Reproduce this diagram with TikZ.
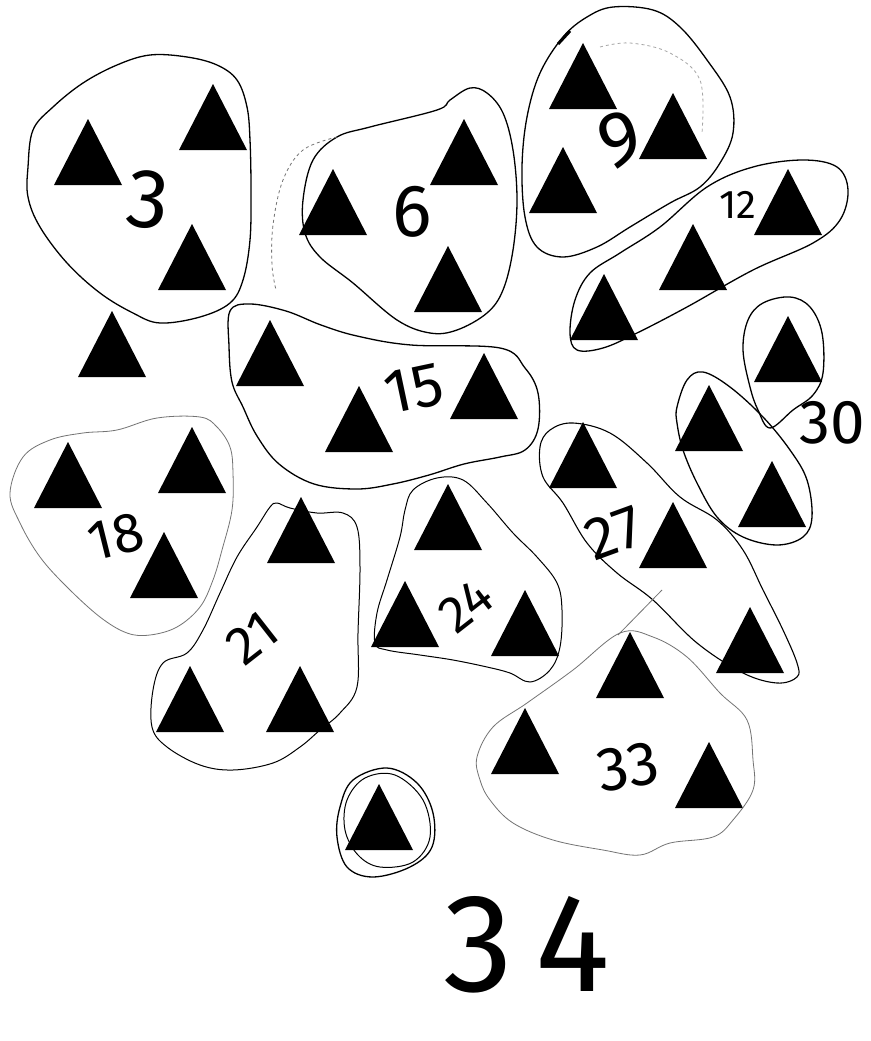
\documentclass[tikz,border=0pt]{standalone}
\usepackage{fontspec}
\IfFontExistsTF{FiraSans-Light.otf}{\newfontfamily\hand{FiraSans-Light.otf}}{\newfontfamily\hand{Fira Sans}}
\begin{document}
\begin{tikzpicture}[x=1pt,y=-1pt,
  loopline/.style={draw=black, line width=1.3pt, line join=round},
  faintline/.style={draw=black!55, line width=0.8pt, line join=round},
  lbl/.style={font={\hand\fontsize{#1}{#1}\selectfont}, inner sep=0pt, text=black},
  pics/tri/.style={code={\fill[black] (-34,0) -- (34,0) -- (0,-66) -- cycle;}}
]
\useasboundingbox[fill=white] (0,0) rectangle (870,1041);

% ---- triangles (base centre) ----
\foreach \x/\y in {88/185, 213/150, 192/290, 112/377,
  464/185, 333/235, 448/312,
  583/109, 673/159, 563/213,
  788/235, 693/290, 604/340,
  270/386, 359/452, 484/419,
  788/382, 709/451, 772/527,
  68/508, 192/493, 164/598,
  301/563, 190/732, 300/732,
  448/550, 405/647, 525/656,
  583/488, 673/568, 750/673,
  630/698, 525/774, 709/808,
  379/850}
  \pic at (\x,\y) {tri};

% ---- loops ----
% 3
\draw[loopline] plot[smooth cycle, tension=0.6] coordinates {(28,167) (33,130) (53,107) (83,83) (117,65) (150,55) (187,57) (217,65) (237,80) (247,107) (250,140) (251,190) (250,240) (243,280) (230,303) (200,317) (160,323) (133,313) (100,293) (67,263) (40,227) (28,197)};
% 6
\draw[loopline] plot[smooth cycle, tension=0.6] coordinates {(303,200) (313,160) (337,137) (370,127) (437,110) (450,100) (470,88) (487,93) (503,113) (513,150) (517,200) (513,250) (503,290) (487,313) (457,330) (430,333) (397,320) (353,283) (320,257) (305,233)};
\draw[faintline, dashed] plot[smooth, tension=0.6] coordinates {(337,137) (303,150) (283,180) (273,225) (272,265) (276,290)};
% 9
\draw[loopline] plot[smooth cycle, tension=0.6] coordinates {(563,37) (587,17) (613,7) (653,10) (680,27) (707,60) (730,97) (733,133) (720,163) (700,187) (670,203) (630,227) (597,247) (563,257) (537,247) (525,217) (522,167) (527,117) (540,73)};
\draw[line width=3pt] (558,44) -- (570,31);
\draw[faintline, dashed, draw=black!35] plot[smooth, tension=0.6] coordinates {(600,47) (630,43) (670,53) (700,80) (702,133)};
% 12
\draw[loopline] plot[smooth cycle, tension=0.6] coordinates {(570,333) (575,300) (590,273) (620,253) (660,227) (707,187) (753,167) (803,160) (837,167) (848,190) (840,220) (813,243) (753,270) (687,307) (637,333) (603,348) (577,350)};
% 15
\draw[loopline] plot[smooth cycle, tension=0.6] coordinates {(230,311) (250,304) (286,311) (321,325) (357,336) (411,345) (500,348) (525,368) (538,393) (538,429) (525,450) (500,457) (464,464) (429,475) (393,484) (357,489) (314,484) (279,464) (257,436) (243,407) (232,382) (229,346)};
% 30
\draw[loopline] plot[smooth cycle, tension=0.6] coordinates {(743,350) (748,320) (763,303) (790,297) (810,307) (822,333) (823,373) (813,395) (793,410) (770,428) (758,410) (750,387)};
\draw[loopline] plot[smooth cycle, tension=0.6] coordinates {(677,407) (687,380) (703,372) (730,387) (763,417) (790,450) (807,480) (812,517) (803,537) (777,545) (743,537) (717,517) (697,483) (683,450) (677,423)};
% 18
\draw[faintline] plot[smooth cycle, tension=0.6] coordinates {(10,493) (23,457) (50,440) (83,433) (117,430) (157,418) (200,417) (217,427) (230,447) (233,473) (232,510) (222,550) (213,580) (200,607) (177,627) (150,635) (127,633) (100,617) (67,587) (40,557) (20,523)};
% 21
\draw[loopline, line width=1pt] plot[smooth cycle, tension=0.6] coordinates {(277,503) (290,508) (317,513) (343,513) (357,527) (360,567) (358,633) (357,687) (340,713) (320,730) (300,747) (273,763) (233,770) (200,765) (167,747) (152,727) (153,690) (163,663) (187,653) (203,630) (220,593) (237,557) (257,527) (270,507)};
% 24
\draw[loopline, line width=1pt] plot[smooth cycle, tension=0.6] coordinates {(413,490) (437,478) (463,480) (487,503) (513,533) (537,557) (557,583) (562,610) (560,647) (550,670) (530,682) (510,673) (487,667) (453,660) (420,655) (387,650) (375,643) (377,613) (387,580) (400,537) (405,510)};
% 27
\draw[loopline, line width=1.1pt] plot[smooth cycle, tension=0.6] coordinates {(540,447) (550,430) (573,423) (610,433) (647,463) (680,497) (717,520) (743,550) (763,590) (783,630) (797,663) (797,677) (777,683) (743,673) (697,643) (653,600) (617,573) (587,543) (563,503) (543,477)};
% 33
\draw[faintline] plot[smooth cycle, tension=0.6] coordinates {(480,780) (477,757) (493,727) (527,703) (573,670) (620,633) (653,637) (687,657) (720,693) (747,720) (753,760) (753,790) (733,820) (713,837) (670,843) (640,855) (603,850) (553,840) (513,823) (490,800)};
\draw[faintline] (618,635) -- (662,590);
% 34
\draw[loopline] plot[smooth cycle, tension=0.6] coordinates {(340,807) (353,780) (387,768) (417,783) (433,813) (432,847) (410,867) (373,877) (347,867) (337,837)};
\draw[loopline, line width=1pt] plot[smooth cycle, tension=0.6] coordinates {(347,800) (365,778) (395,775) (423,800) (430,837) (413,862) (380,867) (358,855) (345,830)};

% ---- labels ----
\node[lbl=84, rotate=-6] (l3) at (148,200) {3};
\node[lbl=74] (l6) at (412,212) {6};
\node[lbl=78, rotate=18] (l9) at (620,140) {9};
\node[lbl=40] (l12) at (738,205) {12};
\node[lbl=62, rotate=12] (l15) at (414,389) {15};
\node[lbl=62] (l30) at (832,423) {30};
\node[lbl=56, rotate=14] (l18) at (116,537) {18};
\node[lbl=54, rotate=38] (l21) at (252,638) {21};
\node[lbl=52, rotate=38] (l24) at (466,606) {24};
\node[lbl=60, rotate=20] (l27) at (614,533) {27};
\node[lbl=62, rotate=10] (l33) at (628,767) {33};
\node[lbl=140] (l34) at (527,945) {3\hspace{22pt}4};
\end{tikzpicture}
\end{document}
